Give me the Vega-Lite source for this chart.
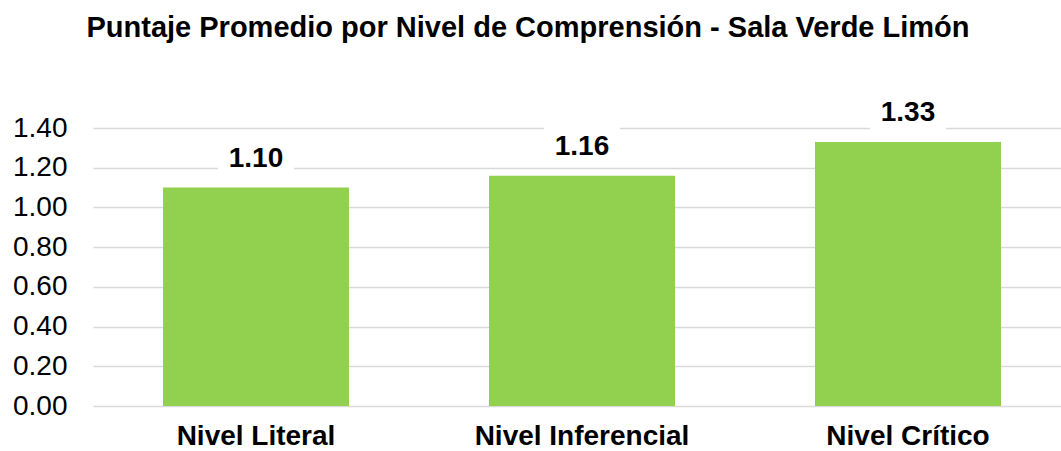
{
  "$schema": "https://vega.github.io/schema/vega-lite/v6.json",
  "autosize": {"type": "none"},
  "padding": {"left": 93, "top": 128, "right": 0, "bottom": 45},
  "width": 968,
  "height": 278,
  "background": "white",
  "title": {
    "text": "Puntaje Promedio por Nivel de Comprensión - Sala Verde Limón",
    "font": "Liberation Sans",
    "fontSize": 29,
    "fontWeight": "bold",
    "color": "black",
    "anchor": "middle",
    "frame": "group",
    "dx": -49,
    "offset": 49
  },
  "config": {"view": {"stroke": null}},
  "data": {
    "values": [
      {"nivel": "Nivel Literal", "puntaje": 1.10},
      {"nivel": "Nivel Inferencial", "puntaje": 1.16},
      {"nivel": "Nivel Crítico", "puntaje": 1.33}
    ]
  },
  "encoding": {
    "x": {
      "field": "nivel",
      "type": "nominal",
      "sort": null,
      "scale": {"range": [0, 978], "paddingInner": 0.4294, "paddingOuter": 0.2147},
      "axis": {
        "title": null,
        "labelAngle": 0,
        "labelFont": "Liberation Sans",
        "labelFontSize": 28,
        "labelFontWeight": "bold",
        "labelColor": "black",
        "labelPadding": 16,
        "labelLimit": 0,
        "ticks": false,
        "domain": false,
        "grid": false
      }
    },
    "y": {
      "field": "puntaje",
      "type": "quantitative",
      "scale": {"domain": [0, 1.4], "nice": false},
      "axis": {
        "title": null,
        "values": [0, 0.2, 0.4, 0.6, 0.8, 1.0, 1.2, 1.4],
        "format": ".2f",
        "labelFont": "Liberation Sans",
        "labelFontSize": 28,
        "labelColor": "black",
        "labelPadding": 26,
        "ticks": false,
        "domain": false,
        "grid": true,
        "gridColor": "#D9D9D9",
        "gridWidth": 1.5
      }
    }
  },
  "layer": [
    {"mark": {"type": "bar", "color": "#92D050"}},
    {
      "mark": {
        "type": "point",
        "shape": "M-1,-0.526H1V0.526H-1Z",
        "size": 5776,
        "filled": true,
        "color": "white",
        "opacity": 1,
        "yOffset": -30
      }
    },
    {
      "mark": {
        "type": "text",
        "font": "Liberation Sans",
        "fontSize": 28,
        "fontWeight": "bold",
        "color": "black",
        "baseline": "alphabetic",
        "dy": -21
      },
      "encoding": {"text": {"field": "puntaje", "type": "quantitative", "format": ".2f"}}
    }
  ]
}
